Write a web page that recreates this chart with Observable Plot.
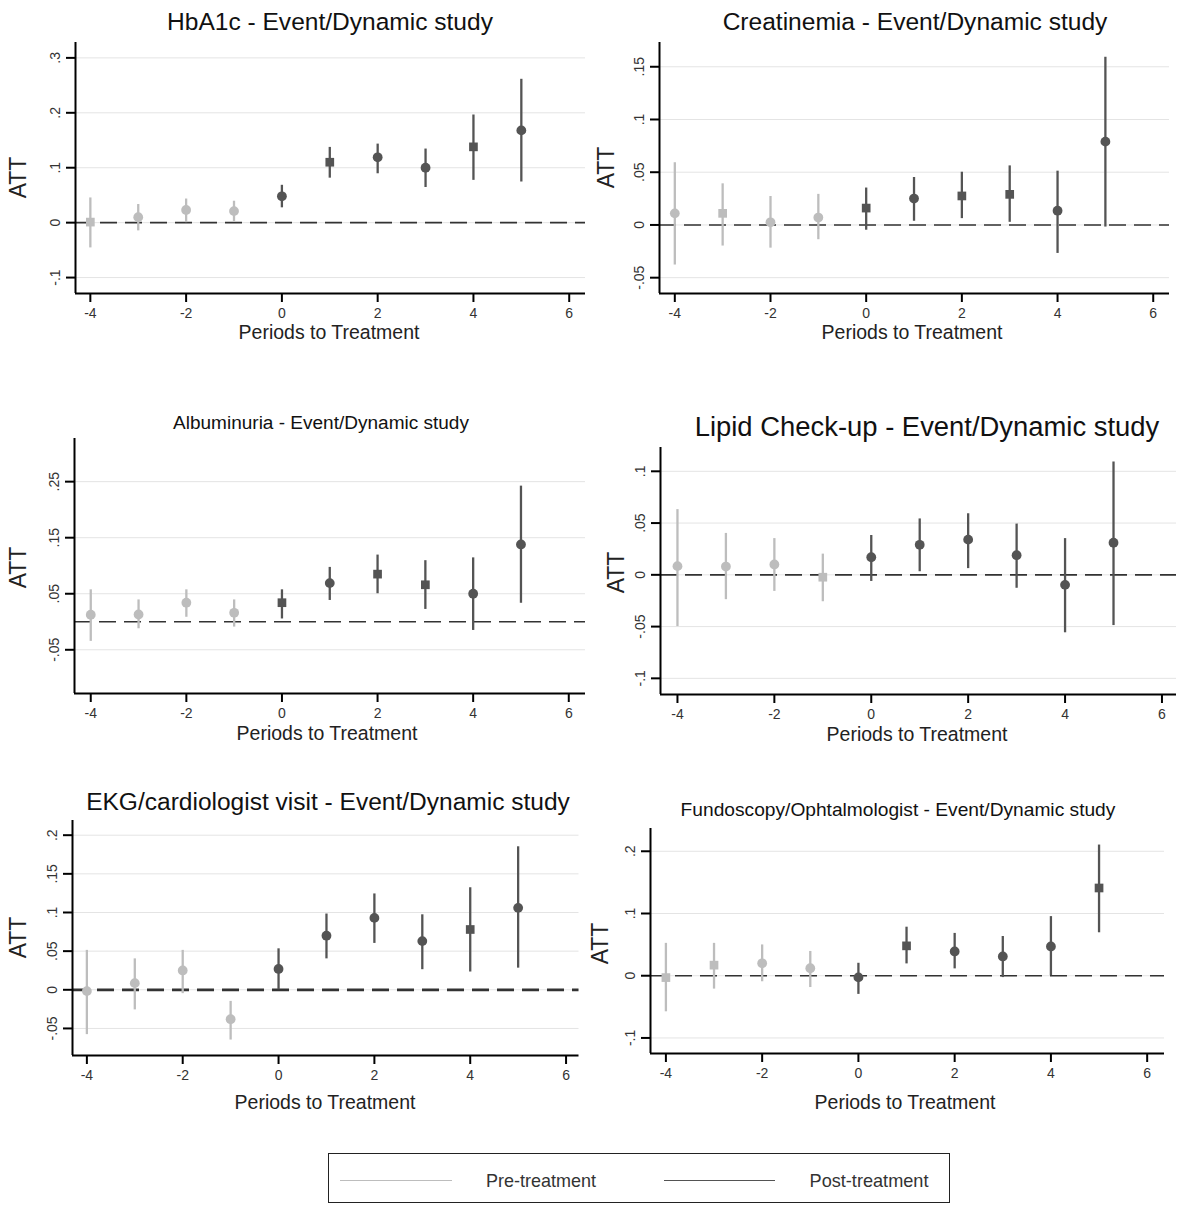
<!DOCTYPE html>
<html><head><meta charset="utf-8">
<script src="https://cdn.jsdelivr.net/npm/d3@7"></script>
<script src="https://cdn.jsdelivr.net/npm/@observablehq/plot@0.6"></script>
<style>
body{margin:0;background:#fff;font-family:"Liberation Sans",Arial,sans-serif;}
#page{position:relative;width:1187px;height:1206px;overflow:hidden;background:#fff;}
.abs{position:absolute;white-space:nowrap;line-height:1;}
</style></head><body><div id="page"></div>
<script>
// ---------- data ----------
const periods = [-4, -3, -2, -1, 0, 1, 2, 3, 4, 5];
const xTicks = [-4, -2, 0, 2, 4, 6];
const groupLabels = ["Pre-treatment", "Post-treatment"];
const xLabel = "Periods to Treatment";
const yLabel = "ATT";

const hba1cTitle = "HbA1c - Event/Dynamic study";
const hba1cEst = [0.001, 0.010, 0.023, 0.021, 0.048, 0.110, 0.119, 0.100, 0.138, 0.168];
const hba1cLo  = [-0.046, -0.015, 0.000, 0.002, 0.027, 0.081, 0.089, 0.064, 0.077, 0.074];
const hba1cHi  = [0.045, 0.033, 0.043, 0.039, 0.068, 0.137, 0.143, 0.134, 0.196, 0.261];
const hba1cMarker = ["s","c","c","c","c","s","c","c","s","c"];
const hba1cTicks = [-0.1, 0, 0.1, 0.2, 0.3];

const creaTitle = "Creatinemia - Event/Dynamic study";
const creaEst = [0.011, 0.011, 0.0025, 0.007, 0.016, 0.025, 0.0275, 0.029, 0.0135, 0.079];
const creaLo  = [-0.038, -0.020, -0.022, -0.014, -0.005, 0.0035, 0.006, 0.0025, -0.027, -0.002];
const creaHi  = [0.059, 0.039, 0.027, 0.029, 0.035, 0.045, 0.050, 0.056, 0.051, 0.159];
const creaMarker = ["c","s","c","c","s","c","s","s","c","c"];
const creaTicks = [-0.05, 0, 0.05, 0.1, 0.15];

const albTitle = "Albuminuria - Event/Dynamic study";
const albEst = [0.0125, 0.013, 0.034, 0.016, 0.034, 0.069, 0.085, 0.066, 0.050, 0.138];
const albLo  = [-0.035, -0.0125, 0.008, -0.0095, 0.005, 0.038, 0.050, 0.022, -0.0155, 0.033];
const albHi  = [0.057, 0.039, 0.057, 0.039, 0.057, 0.097, 0.119, 0.109, 0.114, 0.242];
const albMarker = ["c","c","c","c","s","c","s","s","c","c"];
const albTicks = [-0.05, 0.05, 0.15, 0.25];

const lipTitle = "Lipid Check-up - Event/Dynamic study";
const lipEst = [0.0084, 0.008, 0.010, -0.0023, 0.017, 0.029, 0.034, 0.019, -0.0097, 0.031];
const lipLo  = [-0.050, -0.024, -0.016, -0.026, -0.0064, 0.003, 0.006, -0.013, -0.056, -0.049];
const lipHi  = [0.063, 0.040, 0.035, 0.020, 0.038, 0.054, 0.059, 0.049, 0.035, 0.109];
const lipMarker = ["c","c","c","s","c","c","c","c","c","c"];
const lipTicks = [-0.1, -0.05, 0, 0.05, 0.1];

const ekgTitle = "EKG/cardiologist visit - Event/Dynamic study";
const ekgEst = [-0.0017, 0.0086, 0.025, -0.038, 0.027, 0.070, 0.093, 0.063, 0.078, 0.106];
const ekgLo  = [-0.058, -0.026, -0.005, -0.065, 0.0, 0.040, 0.060, 0.026, 0.023, 0.028];
const ekgHi  = [0.051, 0.040, 0.051, -0.015, 0.053, 0.098, 0.124, 0.097, 0.132, 0.185];
const ekgMarker = ["c","c","c","c","c","c","c","c","s","c"];
const ekgTicks = [-0.05, 0, 0.05, 0.1, 0.15, 0.2];

const funTitle = "Fundoscopy/Ophtalmologist - Event/Dynamic study";
const funEst = [-0.003, 0.017, 0.020, 0.012, -0.0027, 0.048, 0.039, 0.031, 0.047, 0.141];
const funLo  = [-0.058, -0.0215, -0.0097, -0.019, -0.030, 0.019, 0.011, -0.003, 0.0, 0.069];
const funHi  = [0.052, 0.052, 0.0495, 0.039, 0.020, 0.078, 0.068, 0.063, 0.095, 0.210];
const funMarker = ["s","s","c","c","c","s","c","c","c","s"];
const funTicks = [-0.1, 0, 0.1, 0.2];

// ---------- layout ----------
const panels = [
  {title: hba1cTitle, est: hba1cEst, lo: hba1cLo, hi: hba1cHi, marker: hba1cMarker, ticks: hba1cTicks,
   frame: [75, 585, 42, 293], xd: [-4.31, 6.34], yd: [-0.129, 0.328],
   tPos: [330, 22, 326], att: [19, 177], xl: [329, 333, 181], zw: 1.6},
  {title: creaTitle, est: creaEst, lo: creaLo, hi: creaHi, marker: creaMarker, ticks: creaTicks,
   frame: [659, 1169, 42, 293], xd: [-4.32, 6.34], yd: [-0.065, 0.173],
   tPos: [915, 22, 385], att: [607, 167], xl: [912, 333, 181], zw: 1.6},
  {title: albTitle, est: albEst, lo: albLo, hi: albHi, marker: albMarker, ticks: albTicks,
   frame: [74, 585, 438, 693], xd: [-4.34, 6.35], yd: [-0.128, 0.327],
   tPos: [321, 423, 296], att: [19, 567], xl: [327, 734, 181], zw: 1.6},
  {title: lipTitle, est: lipEst, lo: lipLo, hi: lipHi, marker: lipMarker, ticks: lipTicks,
   frame: [660, 1176, 447, 694], xd: [-4.35, 6.30], yd: [-0.1156, 0.123],
   tPos: [927, 427, 465], att: [617, 572], xl: [917, 735, 181], zw: 1.6},
  {title: ekgTitle, est: ekgEst, lo: ekgLo, hi: ekgHi, marker: ekgMarker, ticks: ekgTicks,
   frame: [71.5, 578, 820, 1055], xd: [-4.30, 6.27], yd: [-0.085, 0.219],
   tPos: [328, 802, 484], att: [19, 937], xl: [325, 1103, 181], zw: 2.8},
  {title: funTitle, est: funEst, lo: funLo, hi: funHi, marker: funMarker, ticks: funTicks,
   frame: [650, 1164, 828, 1053], xd: [-4.32, 6.36], yd: [-0.125, 0.2366],
   tPos: [898, 810, 435], att: [601, 943], xl: [905, 1103, 181], zw: 1.6}
];

const page = document.getElementById("page");
const fmt = d => d === 0 ? "0" : String(d).replace(/^(-?)0\./, "$1.");

function addText(txt, cx, cy, width, baseSize, opts = {}) {
  const el = document.createElement("div");
  el.className = "abs";
  el.textContent = txt;
  el.style.fontSize = baseSize + "px";
  el.style.color = opts.color || "#111";
  page.appendChild(el);
  if (width) {
    const w = el.getBoundingClientRect().width;
    el.style.fontSize = (baseSize * width / w) + "px";
  }
  const r = el.getBoundingClientRect();
  el.style.left = (cx - r.width / 2) + "px";
  el.style.top = (cy - r.height / 2) + "px";
  if (opts.rotate) el.style.transform = `rotate(${opts.rotate}deg)`;
  return el;
}

const mL = 60, mR = 12, mT = 12, mB = 36;
for (const cfg of panels) {
  const rows = periods.map((p, i) => ({
    p, est: cfg.est[i], lo: cfg.lo[i], hi: cfg.hi[i],
    group: p < 0 ? groupLabels[0] : groupLabels[1],
    marker: cfg.marker[i] === "s" ? "square" : "circle"
  }));
  const f = cfg.frame;
  const svg = Plot.plot({
    width: f[1] - f[0] + mL + mR,
    height: f[3] - f[2] + mT + mB,
    marginLeft: mL, marginRight: mR, marginTop: mT, marginBottom: mB,
    x: {domain: cfg.xd},
    y: {domain: cfg.yd},
    color: {domain: groupLabels, range: ["#bdbdbd", "#545454"]},
    symbol: {domain: ["circle", "square"], range: ["circle", "square"]},
    style: {fontFamily: "'Liberation Sans', Arial, sans-serif", fontSize: "14px", background: "transparent", overflow: "visible"},
    marks: [
      Plot.gridY(cfg.ticks, {stroke: "#e4e4e4", strokeOpacity: 1, strokeWidth: 1}),
      Plot.ruleY([0], {stroke: "#333", strokeWidth: cfg.zw, strokeDasharray: "17,8"}),
      Plot.ruleX(rows, {x: "p", y1: "lo", y2: "hi", stroke: "group", strokeWidth: 2.3}),
      Plot.dot(rows, {x: "p", y: "est", fill: "group", symbol: "marker", r: 4.9}),
      Plot.axisX(xTicks, {tickSize: 9, tickPadding: 6, stroke: "#000", strokeWidth: 2, fill: "#333", label: null, tickFormat: d => String(d)}),
      Plot.axisY(cfg.ticks, {tickSize: 9, tickPadding: 7, tickRotate: -90, tickFormat: fmt, stroke: "#000", strokeWidth: 2, fill: "#333", label: null}),
      Plot.ruleX([cfg.xd[0]], {stroke: "#000", strokeWidth: 2}),
      Plot.ruleY([cfg.yd[0]], {stroke: "#000", strokeWidth: 2})
    ]
  });
  svg.style.position = "absolute";
  svg.style.left = (f[0] - mL) + "px";
  svg.style.top = (f[2] - mT) + "px";
  svg.querySelectorAll("text").forEach(t => t.setAttribute("font-size", "14"));
  svg.querySelectorAll("g[aria-label$='tick label']").forEach(g => { g.setAttribute("font-size", "14"); g.style.fontSize = "14px"; });
  page.appendChild(svg);

  addText(cfg.title, cfg.tPos[0], cfg.tPos[1], cfg.tPos[2], 20, {color: "#111"});
  addText(xLabel, cfg.xl[0], cfg.xl[1], cfg.xl[2], 17, {color: "#222"});
  addText(yLabel, cfg.att[0], cfg.att[1], 0, 23, {color: "#222", rotate: -90});
}

// ---------- legend ----------
const box = document.createElement("div");
box.className = "abs";
Object.assign(box.style, {left: "328px", top: "1153px", width: "622px", height: "50px", border: "1.5px solid #222", boxSizing: "border-box", background: "#fff"});
page.appendChild(box);
const swatchColors = ["#bdbdbd", "#545454"];
const swatchX = [[340, 452], [664, 775]];
const labelX = [541, 869];
groupLabels.forEach((g, i) => {
  const ln = document.createElement("div");
  ln.className = "abs";
  Object.assign(ln.style, {left: swatchX[i][0] + "px", top: "1180px", width: (swatchX[i][1] - swatchX[i][0]) + "px", height: "0", borderTop: "1.5px solid " + swatchColors[i]});
  page.appendChild(ln);
  addText(g, labelX[i], 1181, i === 0 ? 110 : 119, 14, {color: "#333"});
});
</script>
</body></html>
